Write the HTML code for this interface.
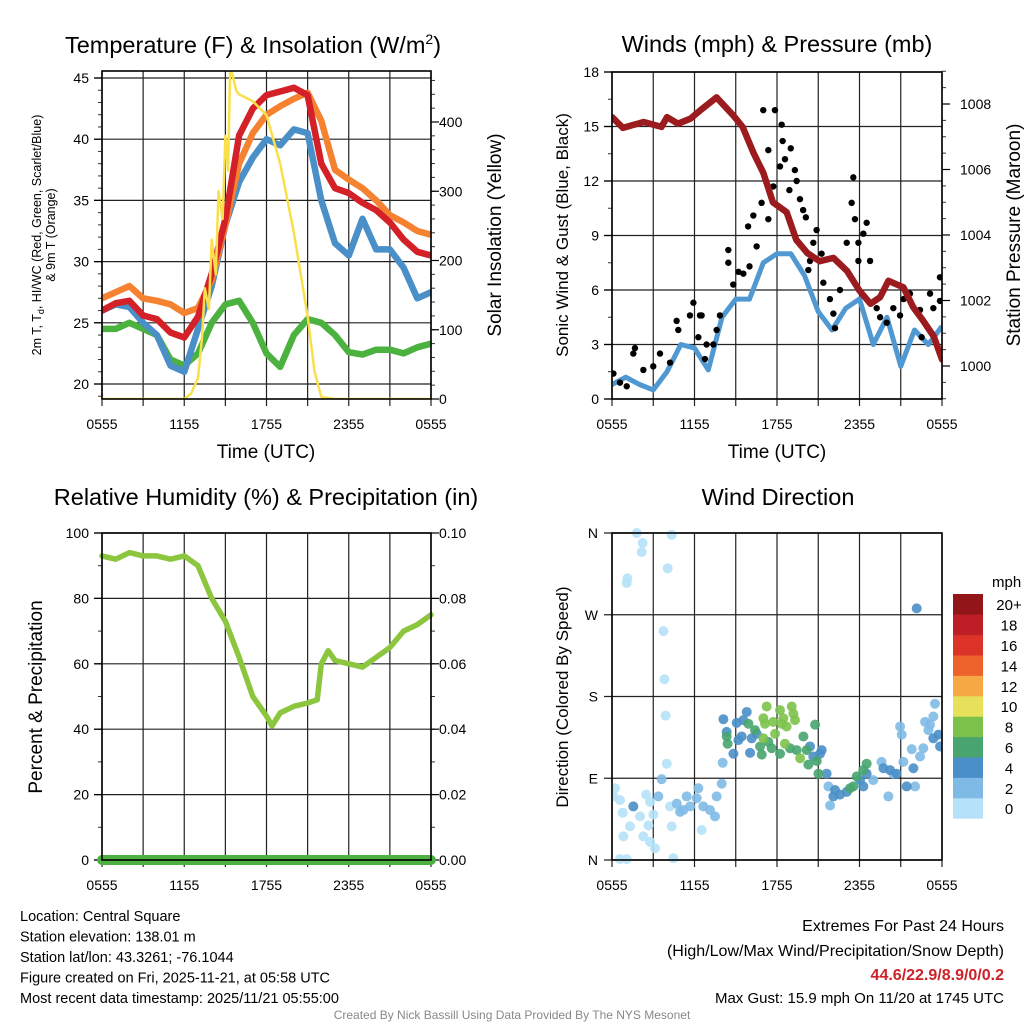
<!DOCTYPE html>
<html><head><meta charset="utf-8">
<style>
html,body{margin:0;padding:0;background:#fff;}
svg{display:block;font-family:"Liberation Sans",Arial,sans-serif;}
</style></head>
<body>
<svg id="chart" width="1024" height="1024" viewBox="0 0 1024 1024" xmlns="http://www.w3.org/2000/svg">
<defs>
<clipPath id="c1"><rect x="102" y="71" width="329" height="328"/></clipPath>
<clipPath id="c2"><rect x="612" y="72" width="330" height="327"/></clipPath>
<clipPath id="c3"><rect x="95" y="533" width="343" height="335"/></clipPath>
<clipPath id="c4"><rect x="612" y="528" width="330" height="337"/></clipPath>
</defs>
<g id="g1"></g>
<g id="g2"></g>
<g id="g3"></g>
<g id="g4"></g>
<g id="txt"></g>
</svg>
<script>
// ---------- DATA ----------
const timeLabels = ["0555","1155","1755","2355","0555"];
const hours = [0,1,2,3,4,5,6,7,8,9,10,11,12,13,14,15,16,17,18,19,20,21,22,23,24];
const tempRed    = [26,26.6,26.8,25.6,25.3,24.2,23.8,25.5,29,33.5,40.3,42.5,43.6,43.9,44.2,43.6,38,36,35.6,34.8,34.2,33.2,31.8,30.8,30.5];
const tempOrange = [27,27.5,28,27,26.8,26.5,25.8,26.2,28.5,33,38,40.5,42,42.7,43.3,43.8,41.5,37.5,36.7,36,35,33.8,33.2,32.5,32.2];
const tempBlue   = [26,26.5,26.3,25,24,21.5,21,24.5,28,33,36.5,38.5,40,39.5,40.8,40.5,35,31.5,30.5,33.5,31,31,29.5,27,27.5];
const tempGreen  = [24.5,24.5,25,24.5,24,22,21.5,22.5,25,26.5,26.8,25,22.5,21.4,24,25.3,25,24,22.6,22.4,22.8,22.8,22.5,23,23.3];
const solarHours = [0,6,6.5,7,7.3,7.5,7.8,8,8.3,8.5,8.8,9,9.2,9.35,9.5,9.8,10,11,12,13,14,15,15.5,16,17,24];
const solarVals  = [0,0,8,30,90,160,130,230,180,300,260,380,330,480,470,445,440,430,410,340,240,120,40,3,0,0];
const windHours  = hours;
const windSpeed  = [0.8,1.2,0.8,0.5,1.5,3,2.8,1.6,4.5,5.5,5.5,7.5,8,8,6.8,4.8,3.8,5,5.5,3,4.5,1.8,3.8,3,4];
const gustHours = [0.1,0.58,1.07,1.55,1.67,2.28,3.0,3.49,4.22,4.7,4.82,5.67,5.92,6.28,6.4,6.52,6.76,6.88,7.37,7.61,7.85,8.46,8.46,8.82,9.55,9.9,10.28,10.52,10.88,11.0,11.37,11.37,11.73,11.85,12.22,12.34,12.41,12.58,13.3,13.43,13.67,13.9,14.28,14.4,14.64,14.88,15.24,15.37,15.85,16.1,16.22,16.58,17.07,17.43,17.55,17.67,17.92,17.92,18.28,18.52,18.77,19.25,19.98,20.46,20.95,21.67,22.4,22.52,23.13,23.37,23.85,23.85,9.2,10.0,12.9,13.0,14.1,19.5,21.2,22.9];
const gustVals  = [1.4,0.9,0.7,2.5,2.8,1.6,1.8,2.5,2.0,4.3,3.8,4.6,5.3,3.4,4.6,4.6,2.2,3.0,3.0,3.8,4.6,8.2,7.5,6.3,6.9,9.5,10.1,8.4,10.8,15.9,13.7,9.9,11.7,15.9,12.8,15.1,14.2,13.2,12.6,12.0,11.0,10.4,7.1,7.6,8.6,9.3,8.0,6.4,5.5,4.7,3.9,6.0,8.6,10.8,12.2,9.9,8.6,7.6,9.1,9.7,7.6,5.0,4.2,5.0,4.6,5.8,4.9,3.4,5.8,5.0,6.7,5.4,7.0,7.3,11.5,13.8,10.0,4.5,5.5,4.0];
const pressHours = [0,0.8,2.3,3.6,4,4.8,5.7,6.4,7.6,8.8,9.5,10.3,11,11.7,12.7,13.4,14.2,15.1,16.1,17.1,18,18.8,19.5,20.1,21.2,21.9,22.6,23.4,24];
const pressVals  = [1007.6,1007.27,1007.45,1007.3,1007.6,1007.4,1007.55,1007.8,1008.2,1007.66,1007.3,1006.5,1005.9,1005.0,1004.7,1003.85,1003.45,1003.2,1003.3,1002.9,1002.3,1001.9,1002.1,1002.6,1002.4,1001.8,1001.4,1000.9,1000.2];
const rhHours = [0,1,2,3,4,5,6,7,7.5,8,9,10,11,12,12.4,13,14,15,15.7,16,16.5,17,18,19,20,21,22,23,24];
const rhVals  = [93,92,94,93,93,92,93,90,85,80,73,62,50,44,41,45,47,48,49,60,64,61,60,59,62,65,70,72,75];
const precipHours = [0,24];
const precipVals  = [0,0];
const dirHours = [1.8,2.23,2.16,1.12,1.07,4.34,4.05,3.74,3.81,3.9,3.98,3.61,0.22,0.1,0.58,0.78,2.48,2.77,3.01,2.65,1.31,2.28,2.77,3.13,0.83,0.58,1.07,4.46,4.22,4.34,6.52,2.04,
 4.71,5.19,5.68,6.28,6.16,7.13,7.61,7.98,6.64,7.49,5.43,4.95,3.37,15.74,15.86,19.0,19.6,20.1,20.95,21.07,21.19,21.8,22.04,22.4,22.64,22.77,23.13,23.49,23.37,23.01,20.46,8.05,
 1.55,8.1,8.34,9.07,9.55,9.8,9.19,8.83,9.43,10.16,10.04,16.22,16.58,17.07,18.04,18.28,18.52,19.74,20.22,20.7,21.43,21.92,22.16,23.37,23.74,23.86,15.13,15.61,15.25,10.52,14.4,14.64,16.1,
 8.34,8.41,9.92,10.4,10.77,10.89,11.37,11.61,12.22,12.95,13.43,13.92,14.16,14.28,14.77,15.01,14.89,17.55,17.31,18.28,18.52,17.8,
 11.25,11.01,11.01,11.73,11.86,12.22,12.46,12.58,12.7,13.07,13.19,13.31,13.68,11.13,12.34];
const dirDeg = [360,349,339,310,305,358,321,252,199,159,106,89,79,70,66,52,72,64,50,38,37,26,20,13,26,1,1,2,59,37,33,48,
 62,55,59,79,68,55,70,84,59,48,70,53,70,81,60,88,108,70,147,138,108,122,81,114,123,152,149,172,158,143,95,107,
 59,155,141,151,154,163,132,117,136,134,118,77,72,75,88,81,95,101,99,95,81,101,277,134,138,125,117,95,121,139,125,114,70,
 136,128,150,143,125,116,130,123,117,123,121,136,121,105,149,95,109,81,79,99,106,92,
 169,156,134,152,139,165,156,128,147,169,161,154,112,150,150];
const dirSpeed = [1,1,1,1,1,1,1,1,1,1,1,2.5,1,1,1,1,1,1,1,1,1,1,1,1,1,1,1,1,1,1,1,1,
 3,3,3,3,3,3,3,3,3,3,3,3,3,3,3,3,3,3,3,3,3,3,3,3,3,3,3,3,3,3,3,3,
 5,5,5,5,5,5,5,5,5,5,5,5,5,5,5,5,5,5,5,5,5,5,5,5,5,5,5,5,5,5,5,5,5,
 7,7,7,7,7,7,7,7,7,7,7,7,7,7,7,7,7,7,7,7,7,7,
 9,9,9,9,9,9,9,9,9,9,9,9,9,9,9];
const cbLabels = ["0","2","4","6","8","10","12","14","16","18","20+"];
const cbColors = ["#b5e2f8","#7fbae6","#4a8fc8","#48a56f","#7cc24a","#e6e05a","#f5a843","#ee622b","#dc3328","#be1e25","#921519"];

// ---------- HELPERS ----------
const NS="http://www.w3.org/2000/svg";
function mk(tag, attrs, parent){const e=document.createElementNS(NS,tag);for(const k in attrs)e.setAttribute(k,attrs[k]);parent.appendChild(e);return e;}
function lin(d0,d1,r0,r1){return v=>r0+(v-d0)/(d1-d0)*(r1-r0);}
function txt(s,x,y,size,anchor,parent,extra){const e=mk('text',Object.assign({x:x,y:y,'font-size':size,'text-anchor':anchor||'middle',fill:'#000'},extra||{}),parent);e.textContent=s;return e;}
function pathFrom(xs,ys,fx,fy){let d='';for(let i=0;i<xs.length;i++)d+=(i?'L':'M')+fx(xs[i]).toFixed(1)+','+fy(ys[i]).toFixed(1);return d;}

function panel(g,P,xTicksLabels,labelY){
  const fx=lin(0,24,P.x0,P.x1);
  for(let h=0;h<=24;h+=3){
    const l=mk('line',{x1:fx(h),x2:fx(h),y1:P.y0,y2:P.y1+7,stroke:'#222','stroke-width':1.2},g);
    
    
  }
  for(let i=0;i<xTicksLabels.length;i++){
    const t=txt(xTicksLabels[i],fx(i*6),labelY,14,'middle',g);
    
    
  }
  return fx;
}
function frame(g,P){
  const r=mk('rect',{x:P.x0,y:P.y0,width:P.x1-P.x0,height:P.y1-P.y0,fill:'none',stroke:'#000','stroke-width':1.6},g);
  
  
}
function hgrid(g,P,fy,vals){
  for(const v of vals){
    const l=mk('line',{x1:P.x0-8,x2:P.x1,y1:fy(v),y2:fy(v),stroke:'#222','stroke-width':1.2},g);
    
    
  }
}
function yTicks(g,x,fy,majors,labels,minorStep,lo,hi,side,lx){
  const dir=side==='left'?-1:1;
  for(let v=lo;v<=hi+1e-9;v+=minorStep){
    const l=mk('line',{x1:x,x2:x+dir*4,y1:fy(v),y2:fy(v),stroke:'#333','stroke-width':1},g);
    
    
  }
  majors.forEach((v,i)=>{
    const l=mk('line',{x1:x,x2:x+dir*8,y1:fy(v),y2:fy(v),stroke:'#000','stroke-width':1.2},g);
    
    
    const t=txt(labels[i],lx,fy(v)+5,14,side==='left'?'end':'start',g);
    
    
  });
}
function rotLabel(s,x,y,size,g,name){
  const t=txt(s,x,y,size,'middle',g,{transform:'rotate(-90 '+x+' '+y+')'});
  
  
  return t;
}

// ---------- PANEL 1 ----------
{
 const g=document.getElementById('g1');
 const P={x0:102,x1:431,y0:71,y1:399};
 const fx=panel(g,P,timeLabels,429);
 const fy=lin(20,45,384,78);
 const fs=lin(0,400,399,122);
 hgrid(g,P,fy,[20,25,30,35,40,45]);
 yTicks(g,P.x0,fy,[20,25,30,35,40,45],["20","25","30","35","40","45"],1,19,45,'left',89);
 yTicks(g,P.x1,fs,[0,100,200,300,400],["0","100","200","300","400"],20,0,460,'right',439);
 const cg=mk('g',{'clip-path':'url(#c1)'},g);
 const series=[[tempGreen,'#4bb13f','dewpoint-line'],[tempBlue,'#4a8fc8','windchill-line'],[tempOrange,'#f58231','temp-9m-line'],[tempRed,'#d42027','temp-2m-line']];
 for(const s of series){
   const p=mk('path',{d:pathFrom(hours,s[0],fx,fy),fill:'none',stroke:s[1],'stroke-width':6.5,'stroke-linejoin':'round','stroke-linecap':'round'},cg);
   
   
 }
 const sp=mk('path',{d:pathFrom(solarHours,solarVals,fx,fs),fill:'none',stroke:'#f9e04b','stroke-width':2.5,'stroke-linejoin':'round'},cg);
 
 
 frame(g,P);
 const t=txt('Temperature (F) & Insolation (W/m',253,53,23.5,'middle',g);
 const sup=mk('tspan',{dy:-9,'font-size':14},t);sup.textContent='2';
 const cl=mk('tspan',{dy:9},t);cl.textContent=')';
 
 
 const xl=txt('Time (UTC)',266,458,19,'middle',g);
 
 
 const yl=mk('text',{x:0,y:0,'font-size':12.5,'text-anchor':'middle',transform:'translate(41 235) rotate(-90)'},g);
 const a=mk('tspan',{x:0,dy:0},yl);a.textContent='2m T, T';
 const sb=mk('tspan',{'font-size':9,dy:3},yl);sb.textContent='d';
 const a2=mk('tspan',{dy:-3},yl);a2.textContent=', HI/WC (Red, Green, Scarlet/Blue)';
 const b=mk('tspan',{x:0,dy:14},yl);b.textContent='& 9m T (Orange)';
 
 
 rotLabel('Solar Insolation (Yellow)',501,235,19,g,'solar-y-axis-title');
}

// ---------- PANEL 2 ----------
{
 const g=document.getElementById('g2');
 const P={x0:612,x1:942,y0:72,y1:399};
 const fx=panel(g,P,timeLabels,429);
 const fy=lin(0,18,399,72);
 const fp=lin(1000,1008,366,104);
 hgrid(g,P,fy,[0,3,6,9,12,15,18]);
 yTicks(g,P.x0,fy,[0,3,6,9,12,15,18],["0","3","6","9","12","15","18"],1.5,0,18,'left',599);
 yTicks(g,P.x1,fp,[1000,1002,1004,1006,1008],["1000","1002","1004","1006","1008"],0.5,999,1009,'right',960);
 const cg=mk('g',{'clip-path':'url(#c2)'},g);
 const wp=mk('path',{d:pathFrom(windHours,windSpeed,fx,fy),fill:'none',stroke:'#4f98d2','stroke-width':5,'stroke-linejoin':'round'},cg);
 
 
 for(let i=0;i<gustHours.length;i++){
   const c=mk('circle',{cx:fx(gustHours[i]),cy:fy(gustVals[i]),r:3.2,fill:'#000'},cg);
   
   
 }
 const pp=mk('path',{d:pathFrom(pressHours,pressVals,fx,fp),fill:'none',stroke:'#9b1b1e','stroke-width':6.5,'stroke-linejoin':'round','stroke-linecap':'round'},cg);
 
 
 frame(g,P);
 const t=txt('Winds (mph) & Pressure (mb)',777,52,23.5,'middle',g);
 
 
 const xl=txt('Time (UTC)',777,458,19,'middle',g);
 
 
 rotLabel('Sonic Wind & Gust (Blue, Black)',568,235,17,g,'wind-y-axis-title');
 rotLabel('Station Pressure (Maroon)',1020,235,19,g,'pressure-y-axis-title');
}

// ---------- PANEL 3 ----------
{
 const g=document.getElementById('g3');
 const P={x0:102,x1:431,y0:533,y1:860};
 const fx=panel(g,P,timeLabels,890);
 const fy=lin(0,100,860,533);
 const fr=lin(0,0.1,860,533);
 hgrid(g,P,fy,[0,20,40,60,80,100]);
 yTicks(g,P.x0,fy,[0,20,40,60,80,100],["0","20","40","60","80","100"],10,0,100,'left',89);
 yTicks(g,P.x1,fr,[0,0.02,0.04,0.06,0.08,0.1],["0.00","0.02","0.04","0.06","0.08","0.10"],0.01,0,0.1,'right',439);
 const cg=mk('g',{'clip-path':'url(#c3)'},g);
 const rp=mk('path',{d:pathFrom(rhHours,rhVals,fx,fy),fill:'none',stroke:'#8cc63f','stroke-width':5.5,'stroke-linejoin':'round','stroke-linecap':'round'},cg);
 
 
 const pr=mk('path',{d:pathFrom(precipHours,precipVals,fx,fr),fill:'none',stroke:'#4bb13f','stroke-width':10,'stroke-linecap':'round'},cg);
 
 
 frame(g,P);
 const t=txt('Relative Humidity (%) & Precipitation (in)',266,505,23.5,'middle',g);
 
 
 rotLabel('Percent & Precipitation',42,697,19,g,'humidity-y-axis-title');
}

// ---------- PANEL 4 ----------
{
 const g=document.getElementById('g4');
 const P={x0:612,x1:942,y0:533,y1:860};
 const fx=panel(g,P,timeLabels,890);
 const fy=lin(0,360,860,533);
 hgrid(g,P,fy,[0,90,180,270,360]);
 ["N","E","S","W","N"].forEach((s,i)=>{
   const t=txt(s,598,fy(i*90)+5,14,'end',g);
   
   
 });
 const cg=mk('g',{'clip-path':'url(#c4)'},g);
 function colorFor(s){return cbColors[Math.min(10,Math.floor(s/2))];}
 for(let i=0;i<dirHours.length;i++){
   const c=mk('circle',{cx:fx(dirHours[i]),cy:fy(dirDeg[i]),r:5,fill:colorFor(dirSpeed[i]),'fill-opacity':0.9},cg);
   
   
 }
 frame(g,P);
 const t=txt('Wind Direction',778,505,23.5,'middle',g);
 
 
 rotLabel('Direction (Colored By Speed)',568,697,17,g,'direction-y-axis-title');
 const cb=mk('g',{},g);
 
 
 const h=20.4, top=594;
 for(let i=0;i<cbColors.length;i++){
   const y=top+(10-i)*h;
   const r=mk('rect',{x:953,y:y,width:30,height:h+0.3,fill:cbColors[i]},cb);
   
   
   const l=txt(cbLabels[i],1009,y+h/2+6,15,'middle',cb);
   
   
 }
 const u=txt('mph',992,587,15,'start',cb);
 
 
}

// ---------- TEXT ----------
{
 const g=document.getElementById('txt');
 const left=["Location: Central Square","Station elevation: 138.01 m","Station lat/lon: 43.3261; -76.1044","Figure created on Fri, 2025-11-21, at 05:58 UTC","Most recent data timestamp: 2025/11/21 05:55:00"];
 left.forEach((s,i)=>{
   const t=txt(s,20,921+i*20.5,14.5,'start',g);
   
   
 });
 const r1=txt('Extremes For Past 24 Hours',1004,931,16,'end',g);
 
 
 const r2=txt('(High/Low/Max Wind/Precipitation/Snow Depth)',1004,956,16,'end',g);
 
 
 const r3=txt('44.6/22.9/8.9/0/0.2',1004,980,16,'end',g,{fill:'#cc2229','font-weight':'bold'});
 
 
 const r4=txt('Max Gust: 15.9 mph On 11/20 at 1745 UTC',1004,1003,15,'end',g);
 
 
 const f=txt('Created By Nick Bassill Using Data Provided By The NYS Mesonet',512,1019,12,'middle',g,{fill:'#888'});
 
 
}
</script>
</body></html>
